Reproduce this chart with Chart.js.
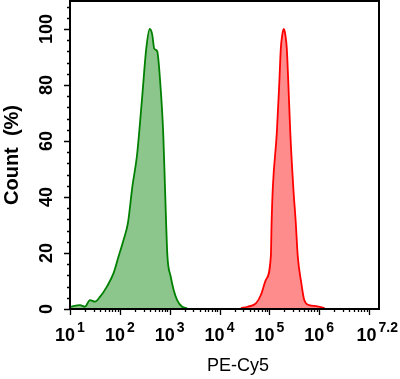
<!DOCTYPE html>
<html>
<head>
<meta charset="utf-8">
<script src="https://cdn.jsdelivr.net/npm/chart.js@4/dist/chart.umd.min.js"></script>
<style>
html,body{margin:0;padding:0;background:#fff;}
#wrap{width:400px;height:379px;position:relative;}
</style>
</head>
<body>
<div id="wrap"><canvas id="c"></canvas></div>
<script>
// Green histogram (control): x as log10 exponent, y as % count
const greenExp = [1.00,1.20,1.30,1.40,1.50,1.605,1.74,1.874,1.975,2.08,2.163,2.25,2.345,2.445,2.53,2.60,2.65,2.69,2.75,2.81,2.87,2.905,2.93,2.955,3.02,3.08,3.15,3.25,3.35];
const greenVal = [0.8,1.4,0.8,3.2,2.6,4.4,8.0,12.8,18.8,25,30.8,43.5,55,75,93,100,98,93,92,81,63,44,30,18.8,11.6,6.8,3.2,0.8,0.3];
// Red histogram (PE-Cy5 stained)
const redExp = [4.43,4.56,4.73,4.83,4.93,5.03,5.045,5.07,5.15,5.20,5.23,5.26,5.29,5.32,5.35,5.38,5.42,5.48,5.53,5.57,5.64,5.70,5.80,5.94,6.11];
const redVal = [0.3,0.8,2,5,10.4,18.8,30.8,43.5,63,81,93,98,100,98,93,81,63,43.5,30.8,18.8,9.4,3.2,1.4,1,0.3];
// Axis ticks
const xLabelExp = ["1","2","3","4","5","6","7.2"];
const xLabelPos = [1,2,3,4,5,6,7.2];
const yMajor = [0,20,40,60,80,100];
const yMinorStep = 4;
const xMin = 1, xMax = 7.2, yMin = 0, yMax = 110;

function pts(ex, vals){ return ex.map((e,i)=>({x:Math.pow(10,e), y:vals[i]})); }

const decor = {
  id:'decor',
  afterDraw(chart){
    const ctx = chart.ctx, a = chart.chartArea;
    const xs = chart.scales.x, ys = chart.scales.y;
    ctx.save();
    ctx.strokeStyle = '#000';
    ctx.lineWidth = 2;
    ctx.strokeRect(a.left, a.top, a.right - a.left, a.bottom - a.top);
    ctx.lineWidth = 1.3;
    ctx.beginPath();
    for (let n = xMin; n < Math.ceil(xMax); n++){
      for (let k = 1; k <= 9; k++){
        const v = k*Math.pow(10,n);
        if (v > Math.pow(10,xMax)) continue;
        const px = Math.round(xs.getPixelForValue(v)) + 0.5;
        const len = k===1 ? 6 : 3;
        ctx.moveTo(px, a.bottom); ctx.lineTo(px, a.bottom + len);
      }
    }
    {
      const px = Math.round(xs.getPixelForValue(Math.pow(10,7))) + 0.5;
      ctx.moveTo(px, a.bottom); ctx.lineTo(px, a.bottom + 6);
    }
    for (let v = yMin; v <= yMax; v += yMinorStep){
      const py = Math.round(ys.getPixelForValue(v)) + 0.5;
      const len = (v % 20 === 0) ? 6 : 3;
      ctx.moveTo(a.left, py); ctx.lineTo(a.left - len, py);
    }
    ctx.stroke();

    ctx.fillStyle = '#000';
    const mainFont = 'bold 18px "Liberation Sans", Arial, sans-serif';
    const supFont = 'bold 14px "Liberation Sans", Arial, sans-serif';
    xLabelPos.forEach((e,i)=>{
      const px = xs.getPixelForValue(Math.pow(10,e));
      ctx.font = mainFont; const w1 = ctx.measureText('10').width;
      ctx.font = supFont; const w2 = ctx.measureText(xLabelExp[i]).width;
      const gap = 2;
      const total = w1 + gap + w2;
      let start = px - total/2;
      if (start + total > 398) start = 398 - total;
      ctx.textAlign = 'left'; ctx.textBaseline = 'alphabetic';
      ctx.font = mainFont; ctx.fillText('10', start, 341);
      ctx.font = supFont; ctx.fillText(xLabelExp[i], start + w1 + gap, 332);
    });
    ctx.font = 'bold 18px "Liberation Sans", Arial, sans-serif';
    ctx.textAlign = 'center'; ctx.textBaseline = 'middle';
    yMajor.forEach(v=>{
      const py = ys.getPixelForValue(v);
      ctx.save(); ctx.translate(46, py); ctx.rotate(-Math.PI/2);
      ctx.fillText(String(v), 0, 1); ctx.restore();
    });
    ctx.save(); ctx.translate(12, (a.top + a.bottom)/2); ctx.rotate(-Math.PI/2);
    ctx.font = 'bold 20px "Liberation Sans", Arial, sans-serif';
    ctx.fillText('Count  (%)', 0, 0); ctx.restore();
    ctx.font = '18px "Liberation Sans", Arial, sans-serif';
    ctx.fillText('PE-Cy5', 238, 366);
    ctx.restore();
  }
};

new Chart(document.getElementById('c'), {
  type: 'line',
  data: {
    datasets: [
      { label:'control', data: pts(greenExp, greenVal), borderColor:'#008000', backgroundColor:'rgba(0,128,0,0.45)', fill:'origin', borderWidth:1.8, pointRadius:0, cubicInterpolationMode:'monotone' },
      { label:'PE-Cy5', data: pts(redExp, redVal), borderColor:'#ff0000', backgroundColor:'rgba(255,0,0,0.45)', fill:'origin', borderWidth:1.8, pointRadius:0, cubicInterpolationMode:'monotone' }
    ]
  },
  options: {
    responsive:true, maintainAspectRatio:false, animation:false,
    layout:{ padding:{ left:70, right:21, top:1, bottom:70 } },
    plugins:{ legend:{display:false}, tooltip:{enabled:false} },
    scales:{
      x:{ type:'logarithmic', min:Math.pow(10,xMin), max:Math.pow(10,xMax), display:false },
      y:{ type:'linear', min:yMin, max:yMax, display:false }
    }
  },
  plugins:[decor]
});
</script>
</body>
</html>
